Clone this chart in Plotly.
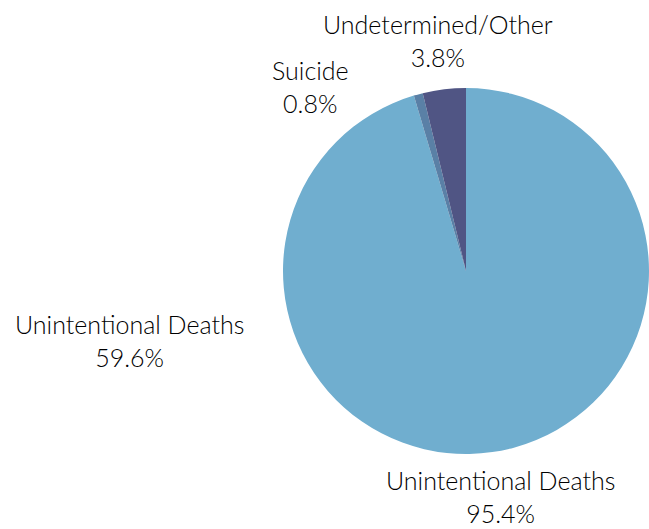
import plotly.graph_objects as go

labels = ["Unintentional Deaths", "Suicide", "Undetermined/Other"]
values = [95.4, 0.8, 3.8]
colors = ["#70AECF", "#5A80A6", "#505584"]

extra_label = "Unintentional Deaths"
extra_value = 59.6

W, H = 649, 529

# label anchor positions (paper fraction)
label_pos = {
    "Unintentional Deaths": (500 / W, 1 - 496 / H),
    "Suicide": (310 / W, 1 - 86 / H),
    "Undetermined/Other": (438 / W, 1 - 40 / H),
}
extra_pos = (129 / W, 1 - 340 / H)

cx, cy, r = 466, 271, 183

fig = go.Figure(go.Pie(
    labels=labels,
    values=values,
    marker=dict(colors=colors, line=dict(width=0)),
    sort=False,
    direction="clockwise",
    rotation=0,
    textinfo="none",
    hoverinfo="label+percent",
    domain=dict(x=[(cx - r) / W, (cx + r) / W], y=[(H - cy - r) / H, (H - cy + r) / H]),
    showlegend=False,
))

font = dict(family="Lato, Noto Sans, sans-serif", size=25, color="#000000", weight=300)
for lab, val in zip(labels, values):
    x, y = label_pos[lab]
    fig.add_annotation(x=x, y=y, xref="paper", yref="paper", showarrow=False,
                       text=f"{lab}<br>{val:.1f}%", font=font, align="center",
                       xanchor="center", yanchor="middle")
fig.add_annotation(x=extra_pos[0], y=extra_pos[1], xref="paper", yref="paper", showarrow=False,
                   text=f"{extra_label}<br>{extra_value:.1f}%", font=font, align="center",
                   xanchor="center", yanchor="middle")

fig.update_layout(width=W, height=H, margin=dict(l=0, r=0, t=0, b=0),
                  paper_bgcolor="white", plot_bgcolor="white")
fig.write_html("out.html", config={"displayModeBar": False},
               post_script="document.body.style.margin='0';document.body.style.overflow='hidden';document.documentElement.style.overflow='hidden';")
